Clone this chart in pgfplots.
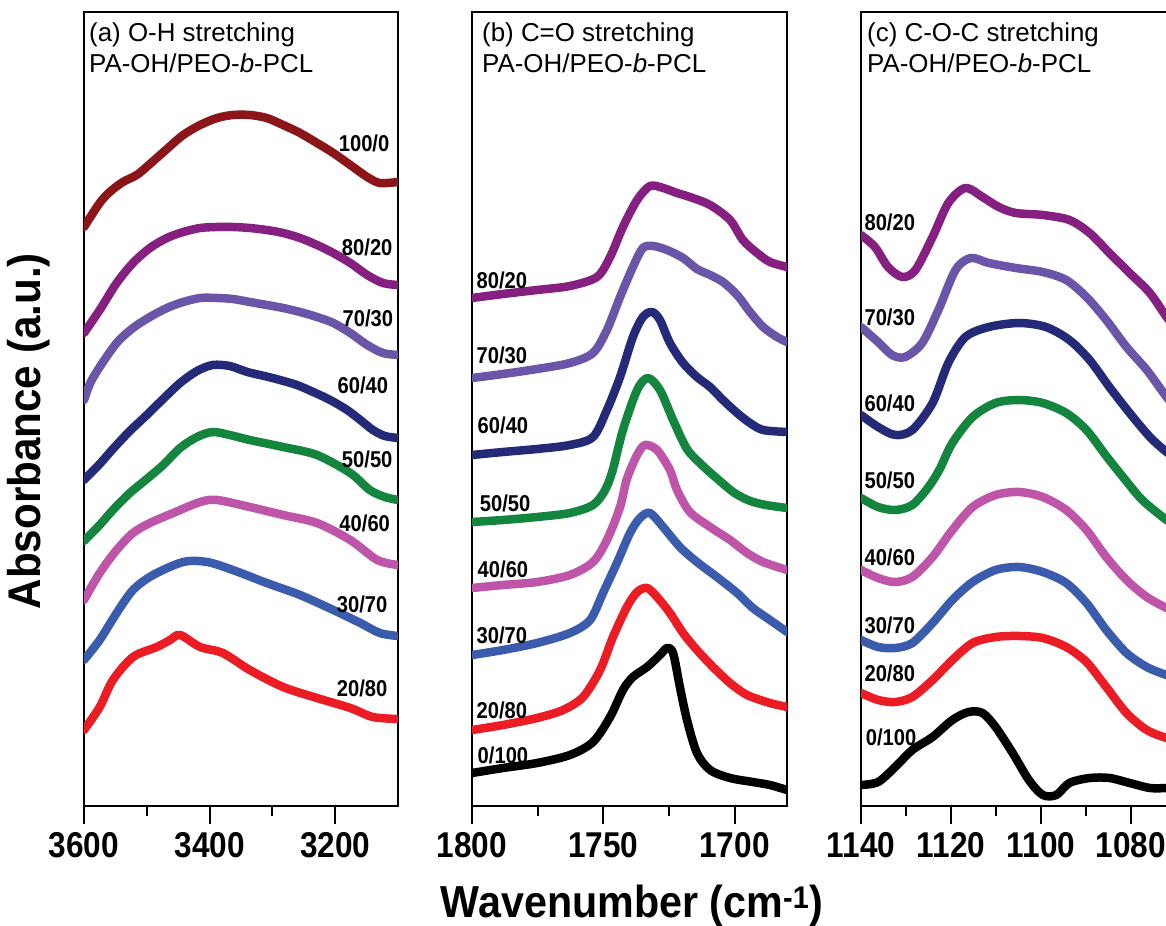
\documentclass[border=0pt]{standalone}
\usepackage{fontspec}
\setmainfont{Liberation Sans}
\newfontfamily\cond[FakeStretch=0.88]{Liberation Sans}
\newfontfamily\condL[FakeStretch=0.92]{Liberation Sans}
\usepackage{pgfplots}
\pgfplotsset{compat=1.18}

\definecolor{cA}{RGB}{139,21,24}
\definecolor{cB}{RGB}{133,32,128}
\definecolor{cC}{RGB}{107,85,168}
\definecolor{cD}{RGB}{36,42,120}
\definecolor{cE}{RGB}{19,133,63}
\definecolor{cF}{RGB}{190,85,168}
\definecolor{cG}{RGB}{59,91,173}
\definecolor{cH}{RGB}{236,28,36}
\definecolor{cI}{RGB}{0,0,0}

\pgfplotsset{
  panel/.style={
    scale only axis, height=794bp, anchor=south west,
    x dir=reverse, ymin=0, ymax=794, ytick=\empty,
    axis line style={line width=2.2bp},
    tick style={line width=2bp, black},
    tick align=outside, xtick pos=left,
    major tick length=18bp, minor tick length=10bp,
    xticklabel style={font=\cond\bfseries\fontsize{36}{36}\selectfont, inner sep=0pt, yshift=-8bp},
    every axis plot/.append style={line width=8.5bp, smooth, tension=0.5, line join=round, line cap=round, no markers},
  },
}
\tikzset{
  lab/.style={font=\cond\bfseries\fontsize{23}{23}\selectfont, inner sep=0pt},
  ttl/.style={font=\fontsize{26}{26}\selectfont, inner sep=0pt, anchor=base west},
}

\begin{document}
\begin{tikzpicture}
\useasboundingbox (0,0) rectangle (1166bp,926bp);

% ---------------- panel (a) ----------------
\begin{axis}[panel, at={(84bp,120bp)}, width=314bp,
  xmin=3100, xmax=3600,
  xtick={3600,3400,3200}, xticklabels={3600,3400,3200},
  minor xtick={3500,3300},
  ylabel={Absorbance (a.u.)},
  ylabel style={at={(axis description cs:-0.175,0.472)}, anchor=center, font=\condL\bfseries\fontsize{46}{46}\selectfont},
]
\addplot[cA] coordinates {(3600,579) (3575,603) (3559,614) (3538,624) (3516,631) (3495,642) (3468,657) (3442,671) (3415,681) (3388,688) (3363,691) (3336,691) (3309,688) (3283,681) (3256,673) (3229,663) (3203,653) (3176,641) (3149,629) (3129,623) (3100,624)};
\addplot[cB] coordinates {(3600,473) (3575,496) (3548,523) (3522,543) (3495,558) (3468,568) (3442,574) (3415,578) (3388,579) (3363,579) (3336,578) (3309,576) (3283,573) (3256,568) (3229,561) (3203,553) (3176,543) (3149,531) (3124,523) (3100,521)};
\addplot[cC] coordinates {(3600,406) (3590,423) (3575,439) (3548,463) (3522,478) (3495,489) (3468,498) (3442,504) (3415,508) (3388,508) (3363,507) (3336,504) (3309,501) (3283,498) (3256,494) (3229,489) (3203,483) (3176,473) (3149,461) (3124,453) (3100,451)};
\addplot[cD] coordinates {(3600,326) (3575,342) (3554,357) (3527,375) (3500,391) (3474,407) (3447,423) (3420,435) (3395,441) (3368,440) (3340,434) (3313,430) (3288,426) (3261,421) (3235,414) (3208,406) (3181,396) (3160,386) (3140,376) (3121,370) (3100,368)};
\addplot[cE] coordinates {(3600,265) (3575,281) (3554,296) (3527,313) (3500,327) (3474,341) (3447,358) (3420,369) (3395,374) (3368,371) (3336,366) (3283,359) (3229,351) (3176,333) (3145,316) (3121,309) (3100,306)};
\addplot[cF] coordinates {(3600,206) (3575,233) (3548,256) (3522,273) (3495,283) (3458,293) (3415,304) (3388,306) (3336,299) (3283,291) (3229,283) (3176,266) (3133,246) (3100,241)};
\addplot[cG] coordinates {(3600,146) (3575,166) (3548,193) (3522,216) (3490,231) (3442,244) (3404,244) (3363,236) (3309,223) (3256,211) (3203,196) (3160,183) (3129,173) (3100,170)};
\addplot[cH] coordinates {(3600,76) (3575,99) (3554,126) (3522,149) (3484,159) (3463,166) (3447,171) (3415,159) (3379,153) (3336,136) (3283,119) (3229,108) (3176,98) (3140,89) (3100,87)};
\node[lab] at (axis cs:3154,663) {100/0};
\node[lab] at (axis cs:3149,559) {80/20};
\node[lab] at (axis cs:3148,488) {70/30};
\node[lab] at (axis cs:3156,421) {60/40};
\node[lab] at (axis cs:3149,347) {50/50};
\node[lab] at (axis cs:3153,283) {40/60};
\node[lab] at (axis cs:3157,202) {30/70};
\node[lab] at (axis cs:3157,118) {20/80};
\node[ttl] at (axis description cs:0,1) [xshift=5bp, yshift=-30bp] {(a) O-H stretching};
\node[ttl] at (axis description cs:0,1) [xshift=5bp, yshift=-61bp] {PA-OH/PEO-\textit{b}-PCL};
\end{axis}

% ---------------- panel (b) ----------------
\begin{axis}[panel, at={(472bp,120bp)}, width=315bp,
  xmin=1680, xmax=1800,
  xtick={1800,1750,1700}, xticklabels={1800,1750,1700},
  minor xtick={1775,1725},
  xlabel={Wavenumber (cm\textsuperscript{-1})},
  xlabel style={at={(axis description cs:0.508,-0.141)}, anchor=base, font=\condL\bfseries\fontsize{45}{45}\selectfont},
]
\addplot[cB] coordinates {(1800,508) (1788.2,512) (1775.2,516) (1762.7,520) (1752.4,529) (1747.4,549) (1742.5,579) (1737.1,606) (1732.2,620) (1727.2,618) (1721.9,613) (1717.0,609) (1709.3,601) (1701.7,586) (1696.8,566) (1691.4,553) (1686.5,544) (1680,539)};
\addplot[cC] coordinates {(1800,428) (1788.2,432) (1775.2,437) (1762.7,443) (1753.9,453) (1748.6,476) (1743.6,509) (1738.7,539) (1734.9,558) (1731.0,560) (1725.7,556) (1719.6,548) (1714.3,537) (1709.3,531) (1704.4,524) (1699.0,511) (1694.1,494) (1689.1,479) (1683.8,469) (1680,464)};
\addplot[cD] coordinates {(1800,351) (1788.2,354) (1775.2,357) (1762.7,361) (1753.9,369) (1748.6,396) (1743.6,429) (1738.7,469) (1734.9,489) (1731.4,494) (1728.4,486) (1724.6,463) (1719.6,443) (1714.3,429) (1709.3,419) (1704.4,406) (1699.0,393) (1694.1,383) (1689.1,376) (1680,374)};
\addplot[cE] coordinates {(1800,284) (1788.2,286) (1775.2,289) (1762.7,293) (1753.9,301) (1749.5,315) (1746.5,335) (1742.5,376) (1737.1,416) (1733.0,428) (1728.4,416) (1723.4,386) (1718.1,357) (1712.0,340) (1706,326) (1700,313) (1694,305) (1688,301) (1680,298)};
\addplot[cF] coordinates {(1800,218) (1788.2,221) (1775.2,224) (1762.7,231) (1753.9,244) (1748.6,266) (1743.6,299) (1741.0,327) (1737.1,351) (1734.1,361) (1729.5,356) (1724.6,336) (1721.9,316) (1717.0,294) (1709.3,279) (1701.7,266) (1695.2,253) (1689.1,244) (1680,236)};
\addplot[cG] coordinates {(1800,151) (1788.2,156) (1775.2,163) (1762.7,173) (1755.0,186) (1750.1,213) (1744.8,243) (1739.8,273) (1736.0,288) (1732.2,293) (1727.2,279) (1720.8,259) (1714.3,244) (1706.7,229) (1699.0,213) (1693.0,198) (1686.5,186) (1680,174)};
\addplot[cH] coordinates {(1800,76) (1788.2,81) (1775.2,88) (1765.3,96) (1757.7,109) (1751.2,136) (1746.3,169) (1741.0,199) (1737.1,214) (1733.3,218) (1729.5,209) (1724.6,193) (1719.6,173) (1714.3,156) (1708.2,139) (1701.7,123) (1695.2,111) (1686.5,103) (1680,99)};
\addplot[cI] coordinates {(1800,33) (1788.2,38) (1775.2,43) (1762.7,51) (1753.9,64) (1747.4,89) (1742.5,116) (1738.7,129) (1733.3,139) (1728.4,151) (1725.7,158) (1723.4,153) (1720.8,119) (1718.1,86) (1714.3,53) (1709.3,36) (1701.7,28) (1693.0,24) (1686.5,21) (1680,16)};
\node[lab] at (axis cs:1788.6,526) {80/20};
\node[lab] at (axis cs:1788.6,451) {70/30};
\node[lab] at (axis cs:1788.2,381) {60/40};
\node[lab] at (axis cs:1787.4,303) {50/50};
\node[lab] at (axis cs:1788.2,237) {40/60};
\node[lab] at (axis cs:1788.6,171) {30/70};
\node[lab] at (axis cs:1788.6,96) {20/80};
\node[lab] at (axis cs:1788.2,51) {0/100};
\node[ttl] at (axis description cs:0,1) [xshift=10bp, yshift=-30bp] {(b) C=O stretching};
\node[ttl] at (axis description cs:0,1) [xshift=10bp, yshift=-61bp] {PA-OH/PEO-\textit{b}-PCL};
\end{axis}

% ---------------- panel (c) ----------------
\begin{axis}[panel, at={(861bp,120bp)}, width=315bp,
  xmin=1070, xmax=1140,
  xtick={1140,1120,1100,1080}, xticklabels={1140,1120,1100,1080},
  minor xtick={1130,1110,1090},
]
\addplot[cB] coordinates {(1140,571) (1136.9,559) (1134.0,539) (1130.8,529) (1127.9,536) (1124.1,569) (1120.6,603) (1116.8,618) (1113.0,609) (1109.4,599) (1105.6,593) (1099.6,591) (1093.7,586) (1089.2,573) (1084.8,553) (1080.3,533) (1075.8,513) (1072.1,489) (1070,478)};
\addplot[cC] coordinates {(1140,479) (1136.2,464) (1133.1,451) (1130.2,449) (1126.4,463) (1122.8,496) (1119.0,536) (1115.6,548) (1111.6,543) (1105.6,538) (1099.6,534) (1094.4,526) (1089.9,509) (1085.5,486) (1081.0,459) (1076.5,436) (1072.1,409) (1070,398)};
\addplot[cD] coordinates {(1140,391) (1136.2,379) (1132.4,371) (1128.6,376) (1124.1,403) (1120.6,443) (1116.8,469) (1111.6,479) (1104.9,483) (1098.9,479) (1093.7,466) (1089.2,446) (1084.8,419) (1080.3,393) (1075.8,369) (1072.1,354) (1070,348)};
\addplot[cE] coordinates {(1140,308) (1136.2,299) (1132.4,296) (1128.6,301) (1125.0,319) (1122.5,337) (1119.7,363) (1115.2,389) (1110.1,403) (1104.9,406) (1099.6,403) (1094.4,393) (1089.9,376) (1085.5,350) (1081.6,328) (1077.5,306) (1072.1,286) (1070,281)};
\addplot[cF] coordinates {(1140,236) (1136.2,228) (1132.4,224) (1128.6,229) (1124.1,249) (1119.7,276) (1115.2,299) (1110.1,311) (1104.9,314) (1099.6,309) (1094.4,296) (1089.9,276) (1085.5,249) (1081.0,226) (1076.5,209) (1072.1,198) (1070,195)};
\addplot[cG] coordinates {(1140,166) (1136.2,159) (1132.4,158) (1128.6,163) (1124.1,183) (1119.7,206) (1115.2,224) (1110.1,236) (1104.9,239) (1099.6,234) (1094.4,223) (1089.9,203) (1085.5,176) (1081.0,153) (1076.5,139) (1072.1,131) (1070,129)};
\addplot[cH] coordinates {(1140,113) (1136.2,106) (1132.4,104) (1128.6,109) (1124.1,126) (1119.7,146) (1115.2,163) (1110.1,169) (1104.9,170) (1099.6,168) (1094.4,159) (1089.9,144) (1085.5,119) (1081.0,93) (1076.5,76) (1072.1,68) (1070,66)};
\addplot[cI] coordinates {(1140,21) (1136.2,24) (1132.4,39) (1128.6,56) (1124.1,69) (1119.7,86) (1116.1,94) (1113.0,93) (1110.1,79) (1106.3,53) (1102.7,26) (1099.6,11) (1096.6,11) (1093.7,23) (1089.2,28) (1084.8,28) (1080.3,23) (1075.8,18) (1072.1,18) (1070,19)};
\node[lab] at (axis cs:1133.6,584) {80/20};
\node[lab] at (axis cs:1133.6,489) {70/30};
\node[lab] at (axis cs:1133.6,403) {60/40};
\node[lab] at (axis cs:1133.6,326) {50/50};
\node[lab] at (axis cs:1133.6,249) {40/60};
\node[lab] at (axis cs:1133.6,181) {30/70};
\node[lab] at (axis cs:1133.6,133) {20/80};
\node[lab] at (axis cs:1133.3,69) {0/100};
\node[ttl] at (axis description cs:0,1) [xshift=6bp, yshift=-30bp] {(c) C-O-C stretching};
\node[ttl] at (axis description cs:0,1) [xshift=6bp, yshift=-61bp] {PA-OH/PEO-\textit{b}-PCL};
\end{axis}
\end{tikzpicture}
\end{document}
